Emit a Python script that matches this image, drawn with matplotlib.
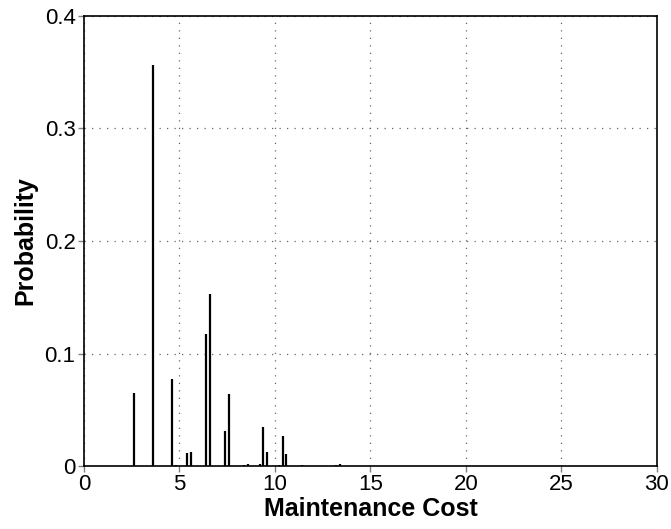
import matplotlib
matplotlib.use("Agg")
import matplotlib.pyplot as plt

plt.rcParams["font.family"] = ["Liberation Sans", "DejaVu Sans"]

# Discrete cost distribution: support points and their probabilities
cost = [2.6, 3.6, 4.6, 4.8, 5.4, 5.6, 6.4, 6.6, 7.4, 7.6, 8.4, 8.6, 9.2, 9.4, 9.6,
        10.2, 10.4, 10.6, 11.4, 11.6, 13.0, 13.2, 13.4, 13.6, 26.8, 29.8]
prob = [0.065, 0.356, 0.0775, 0.0005, 0.0118, 0.0125, 0.1175, 0.153, 0.031, 0.064,
        0.0005, 0.0018, 0.002, 0.035, 0.0125, 0.0012, 0.027, 0.0108, 0.001, 0.0004,
        0.0004, 0.0012, 0.0022, 0.0004, 0.0003, 0.0003]

x_ticks = [0, 5, 10, 15, 20, 25, 30]
y_ticks = [0, 0.1, 0.2, 0.3, 0.4]
y_tick_labels = ["0", "0.1", "0.2", "0.3", "0.4"]

fig = plt.figure(figsize=(6.71, 5.29), dpi=100)
ax = fig.add_axes([0.125, 0.119, 0.854, 0.851])

ax.vlines(cost, 0, prob, colors="black", linewidth=1.6)

ax.set_xlim(0, 30)
ax.set_ylim(0, 0.4)
ax.set_xticks(x_ticks)
ax.set_yticks(y_ticks)
ax.set_yticklabels(y_tick_labels)
ax.tick_params(direction="out", length=4, width=1, color="#808080",
               labelsize=16, pad=2)
ax.tick_params(axis="x", pad=2)
ax.grid(True, color="#666666", linestyle=(0, (1, 5)), linewidth=0.9)
ax.set_axisbelow(True)
for spine in ax.spines.values():
    spine.set_linewidth(1.2)

ax.set_xlabel("Maintenance Cost", fontsize=18, fontweight="bold", labelpad=1)
ax.set_ylabel("Probability", fontsize=18, fontweight="bold", labelpad=5)

fig.savefig("out.png", dpi=100)
plt.close(fig)
